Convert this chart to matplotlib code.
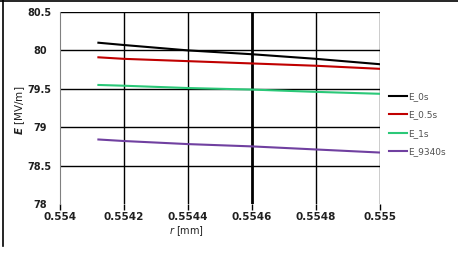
import matplotlib.pyplot as plt
from matplotlib.lines import Line2D

# Data
r_mm = [0.55412, 0.5542, 0.5544, 0.5546, 0.5548, 0.555]
e_0s = [80.10, 80.07, 80.00, 79.95, 79.89, 79.82]
e_05s = [79.91, 79.89, 79.86, 79.83, 79.80, 79.76]
e_1s = [79.55, 79.54, 79.51, 79.49, 79.46, 79.435]
e_9340s = [78.84, 78.82, 78.78, 78.75, 78.71, 78.67]

series = [('E_0s', e_0s, '#000000'),
          ('E_0.5s', e_05s, '#C00000'),
          ('E_1s', e_1s, '#2BC878'),
          ('E_9340s', e_9340s, '#7040A0')]

x_ticks = [0.554, 0.5542, 0.5544, 0.5546, 0.5548, 0.555]
x_labels = ['0.554', '0.5542', '0.5544', '0.5546', '0.5548', '0.555']
y_ticks = [78, 78.5, 79, 79.5, 80, 80.5]
y_labels = ['78', '78.5', '79', '79.5', '80', '80.5']

W, H = 458, 264
fig = plt.figure(figsize=(W / 100, H / 100), dpi=100)
ax = fig.add_axes([60 / W, 1 - 204 / H, 320 / W, 192 / H])

# grid lines: black, none at y=78, thick one at 0.5546
for y in y_ticks[1:]:
    ax.axhline(y, color='black', lw=1.0, zorder=1)
for x in x_ticks[1:]:
    ax.axvline(x, color='black', lw=2.0 if x == 0.5546 else 1.0, zorder=1)

for name, vals, col in series:
    ax.plot(r_mm, vals, color=col, lw=1.5, label=name, zorder=3)

ax.set_xlim(0.554, 0.555)
ax.set_ylim(78, 80.5)
ax.set_xticks(x_ticks)
ax.set_xticklabels(x_labels)
ax.set_yticks(y_ticks)
ax.set_yticklabels(y_labels)
for s in ['top', 'right', 'bottom']:
    ax.spines[s].set_visible(False)
ax.spines['left'].set_color('#808080')
ax.tick_params(axis='x', length=4, color='black', width=1, labelsize=7.5, pad=2)
ax.tick_params(axis='y', length=0, labelsize=7, pad=14.5)
for lab in ax.get_xticklabels() + ax.get_yticklabels():
    lab.set_fontweight('bold')
    lab.set_color('#202020')
for lab in ax.get_yticklabels():
    lab.set_ha('center')

fig.text(20 / W, 1 - 110 / H, r'$\boldsymbol{E}$ [MV/m]', rotation=90,
         ha='center', va='center', fontsize=7.5, color='#202020')
fig.text(186 / W, 1 - 231 / H, '$r$ [mm]', ha='center', va='center',
         fontsize=7, color='#202020')

# legend
handles = [Line2D([], [], color=c, lw=1.5) for _, _, c in series]
fig.legend(handles, [n for n, _, _ in series], loc='center left',
           bbox_to_anchor=(381 / W, 1 - 124 / H), frameon=False,
           fontsize=6.5, handlelength=2.0, handletextpad=0.1,
           labelspacing=1.05, labelcolor='#505050')

# outer frame (top and left only visible)
fig.add_artist(Line2D([0, 1], [1 - 0.5 / H, 1 - 0.5 / H], color='black', lw=1.2))
fig.add_artist(Line2D([2.5 / W, 2.5 / W], [1, 1 - 246 / H], color='black', lw=1.2))

fig.savefig('out.png', dpi=100)
